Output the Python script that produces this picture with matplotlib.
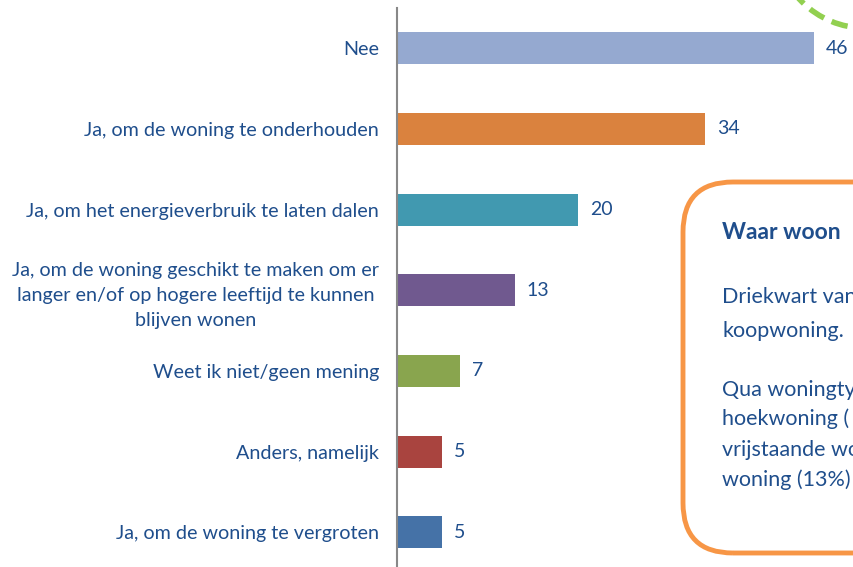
import matplotlib.pyplot as plt
from matplotlib.patches import FancyBboxPatch, Circle

categories = ["Nee",
              "Ja, om de woning te onderhouden",
              "Ja, om het energieverbruik te laten dalen",
              "Ja, om de woning geschikt te maken om er\nlanger en/of op hogere leeftijd te kunnen\nblijven wonen",
              "Weet ik niet/geen mening",
              "Anders, namelijk",
              "Ja, om de woning te vergroten"]
values = [46, 34, 20, 13, 7, 5, 5]
colors = ["#95a9d0", "#da823e", "#4199b0", "#70598f", "#89a54e", "#a9443f", "#4572a7"]

# visible part of the text box (it runs off the page)
box_lines = ["Driekwart van", "koopwoning.", "Qua woningty", "hoekwoning (",
             "vrijstaande wo", "woning (13%)"]
box_y = [297, 331, 390, 419, 450, 480]

txt = "#1f4e8c"
plt.rcParams['font.family'] = ['Lato', 'DejaVu Sans']

W, H = 854, 567
fig = plt.figure(figsize=(W / 100, H / 100), dpi=100)

# axes: y axis line at x=397px, spans from 8px to bottom
ax = fig.add_axes([397 / W, 0, 1 - 397 / W, 1 - 8 / H])
pos = list(range(len(values)))
ax.barh(pos, values, height=0.4, color=colors)
ax.set_xlim(0, 457 / 9.07)
ax.set_ylim(6.43, -0.5)

for p, v in zip(pos, values):
    ax.text(v + 1.3, p, str(v), va='center', ha='left', fontsize=14, color=txt)

ax.set_yticks(pos)
ax.set_yticklabels(categories, fontsize=14.2, color=txt, ha='right',
                   multialignment='center', linespacing=1.55)
ax.tick_params(axis='y', length=0, pad=13)
ax.set_xticks([])
for s in ['top', 'right', 'bottom']:
    ax.spines[s].set_visible(False)
ax.spines['left'].set_color('#888888')
ax.spines['left'].set_linewidth(1.5)

# green dashed circle at the top right
circ = Circle((865, H + 61), 89, transform=None, fill=False, edgecolor='#92d050',
              linewidth=4, linestyle=(0, (3, 1.5)))
fig.add_artist(circ)

# orange rounded text box running off the right edge
box = FancyBboxPatch((683, H - 553), 250, 553 - 182, transform=None,
                     boxstyle="round,pad=0,rounding_size=50",
                     fill=False, edgecolor='#f79646', linewidth=3.5)
fig.add_artist(box)

fig.text(722 / W, 1 - 233 / H, "Waar woon", va='center', ha='left', color=txt,
         fontsize=16.5, fontweight='bold')
for s, y in zip(box_lines, box_y):
    fig.text(722 / W, 1 - y / H, s, va='center', ha='left', color=txt, fontsize=15.5)

fig.savefig("out.png", dpi=100)
